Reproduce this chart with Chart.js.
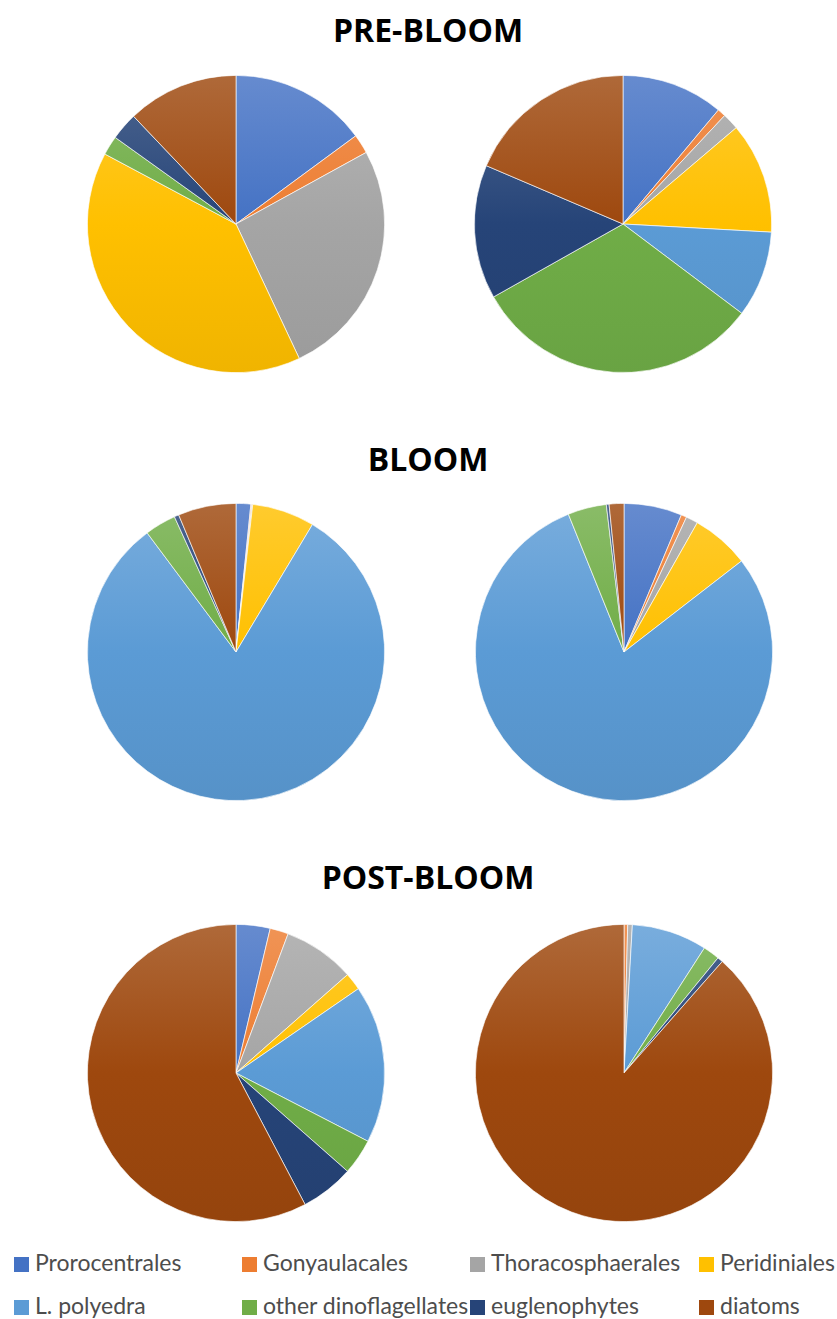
<!DOCTYPE html>
<html>
<head>
<meta charset="utf-8">
<script src="https://cdn.jsdelivr.net/npm/chart.js@4/dist/chart.umd.min.js"></script>
<style>
    html, body { margin: 0; padding: 0; background: #fff; }
    body { width: 837px; height: 1319px; position: relative; overflow: hidden; }
    .title {
        position: absolute; left: 228px; width: 400px; text-align: center;
        font-family: "Open Sans", sans-serif; font-weight: 700; font-size: 32px;
        color: #000; line-height: 40px;
    }
    canvas.pie { position: absolute; }
    .legend-item {
        position: absolute; font-family: Lato, "Open Sans", sans-serif; font-size: 23px;
        color: #4d4d4d; line-height: 26px; white-space: nowrap;
    }
    .legend-item span.box {
        display: inline-block; width: 15px; height: 15px; margin-right: 6px;
        vertical-align: -1px;
    }
</style>
</head>
<body>
<div class="title" style="top:10px">PRE-BLOOM</div>
<div class="title" style="top:439px">BLOOM</div>
<div class="title" style="top:857px">POST-BLOOM</div>

<canvas class="pie" id="preBloomA" width="298" height="298" style="left:87px;top:75px"></canvas>
<canvas class="pie" id="preBloomB" width="298" height="298" style="left:474px;top:75px"></canvas>
<canvas class="pie" id="bloomA" width="298" height="298" style="left:87px;top:503px"></canvas>
<canvas class="pie" id="bloomB" width="298" height="298" style="left:475px;top:503px"></canvas>
<canvas class="pie" id="postBloomA" width="298" height="298" style="left:87px;top:924px"></canvas>
<canvas class="pie" id="postBloomB" width="298" height="298" style="left:475px;top:924px"></canvas>

<div id="legend"></div>

<script>
// Groups shown in every pie
const labels = ['Prorocentrales', 'Gonyaulacales', 'Thoracosphaerales', 'Peridiniales',
    'L. polyedra', 'other dinoflagellates', 'euglenophytes', 'diatoms'];
const colors = ['#4472C4', '#ED7D31', '#A5A5A5', '#FFC000', '#5B9BD5', '#70AD47', '#264478', '#9E480E'];

// Relative abundance (%)
const preBloomA = [14.9, 2.1, 26.0, 39.8, 0, 2.1, 3.0, 12.1];
const preBloomB = [11.1, 0.9, 1.8, 12.1, 9.4, 31.6, 14.6, 18.6];
const bloomA = [1.6, 0.1, 0.1, 6.8, 81.2, 3.4, 0.5, 6.3];
const bloomB = [6.3, 0.6, 1.3, 6.3, 79.3, 4.2, 0.3, 1.6];
const postBloomA = [3.7, 2.0, 7.8, 1.9, 17.2, 3.9, 5.8, 57.7];
const postBloomB = [0, 0.4, 0.5, 0, 8.2, 1.8, 0.6, 88.5];

function mix(hex, target, t) {
    const n = parseInt(hex.slice(1), 16);
    const r = (n >> 16) & 255, g = (n >> 8) & 255, b = n & 255;
    const m = (c) => Math.round(c + (target - c) * t);
    return `rgb(${m(r)}, ${m(g)}, ${m(b)})`;
}

function sliceFill(context) {
    const base = colors[context.dataIndex];
    const area = context.chart.chartArea;
    if (!area) return base;
    const grad = context.chart.ctx.createLinearGradient(0, area.top, 0, area.bottom);
    grad.addColorStop(0, mix(base, 255, 0.18));
    grad.addColorStop(0.5, base);
    grad.addColorStop(1, mix(base, 0, 0.06));
    return grad;
}

function drawPie(id, values) {
    const ctx = document.getElementById(id);
    if (!ctx) return;
    new Chart(ctx, {
        type: 'pie',
        data: {
            labels: labels,
            datasets: [{
                data: values,
                backgroundColor: sliceFill,
                borderColor: 'rgba(255,255,255,0.8)',
                borderWidth: 0.8
            }]
        },
        options: {
            responsive: false,
            animation: false,
            layout: { padding: 0 },
            plugins: {
                legend: { display: false },
                tooltip: { enabled: false }
            }
        }
    });
}

function buildLegend() {
    const legend = document.getElementById('legend');
    const colX = [14, 242, 470, 699];
    const rowY = [1249, 1292];
    labels.forEach((label, i) => {
        const item = document.createElement('div');
        item.className = 'legend-item';
        item.style.left = colX[i % 4] + 'px';
        item.style.top = rowY[Math.floor(i / 4)] + 'px';
        item.innerHTML = `<span class="box" style="background:${colors[i]}"></span>`;
        item.appendChild(document.createTextNode(label));
        legend.appendChild(item);
    });
}

drawPie('preBloomA', preBloomA);
drawPie('preBloomB', preBloomB);
drawPie('bloomA', bloomA);
drawPie('bloomB', bloomB);
drawPie('postBloomA', postBloomA);
drawPie('postBloomB', postBloomB);
buildLegend();
</script>
</body>
</html>
